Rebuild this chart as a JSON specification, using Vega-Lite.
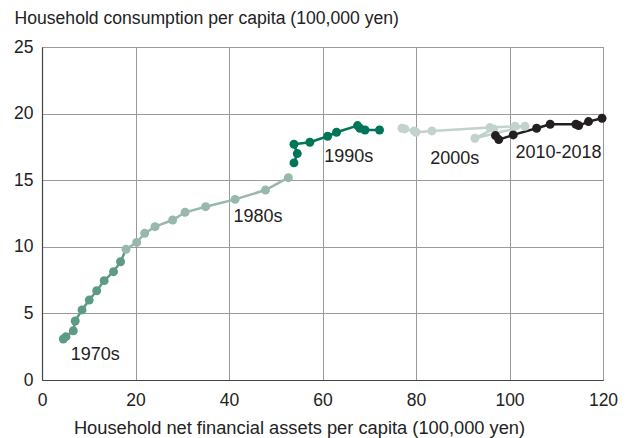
{
  "$schema": "https://vega.github.io/schema/vega-lite/v6.json",
  "width": 561,
  "height": 333,
  "autosize": {"type": "none"},
  "padding": {"left": 42, "top": 47, "right": 27, "bottom": 58},
  "background": "white",
  "config": {
    "font": "Liberation Sans",
    "view": {"stroke": "#9a9a9a", "strokeWidth": 1},
    "axis": {
      "grid": true,
      "gridColor": "#9a9a9a",
      "gridWidth": 1,
      "ticks": false,
      "labelFlush": false,
      "labelOverlap": false,
      "domainColor": "#444444",
      "domainWidth": 1.2,
      "labelFont": "Liberation Sans",
      "labelFontSize": 17.5,
      "labelColor": "#222222",
      "titleFont": "Liberation Sans",
      "titleFontSize": 17.6,
      "titleFontWeight": "normal",
      "titleColor": "#222222"
    }
  },
  "datasets": {
    "pts": [
      {"era": "1970s", "year": 1970, "x": 4.56, "y": 3.08},
      {"era": "1970s", "year": 1971, "x": 5.13, "y": 3.25},
      {"era": "1970s", "year": 1972, "x": 6.7, "y": 3.7},
      {"era": "1970s", "year": 1973, "x": 7.1, "y": 4.43},
      {"era": "1970s", "year": 1974, "x": 8.56, "y": 5.26},
      {"era": "1970s", "year": 1975, "x": 10.1, "y": 6.0},
      {"era": "1970s", "year": 1976, "x": 11.7, "y": 6.7},
      {"era": "1970s", "year": 1977, "x": 13.3, "y": 7.46},
      {"era": "1970s", "year": 1978, "x": 15.3, "y": 8.13},
      {"era": "1970s", "year": 1979, "x": 16.8, "y": 8.88},
      {"era": "1970s", "year": 1980, "x": 17.97, "y": 9.81, "link": true},
      {"era": "1980s", "year": 1980, "x": 17.97, "y": 9.81},
      {"era": "1980s", "year": 1981, "x": 20.25, "y": 10.33},
      {"era": "1980s", "year": 1982, "x": 21.96, "y": 11.01},
      {"era": "1980s", "year": 1983, "x": 24.17, "y": 11.51},
      {"era": "1980s", "year": 1984, "x": 27.95, "y": 12.01},
      {"era": "1980s", "year": 1985, "x": 30.6, "y": 12.59},
      {"era": "1980s", "year": 1986, "x": 35.0, "y": 13.01},
      {"era": "1980s", "year": 1987, "x": 41.3, "y": 13.56},
      {"era": "1980s", "year": 1988, "x": 47.8, "y": 14.26},
      {"era": "1980s", "year": 1989, "x": 52.7, "y": 15.19},
      {"era": "1990s", "year": 1990, "x": 53.9, "y": 16.3},
      {"era": "1990s", "year": 1991, "x": 54.6, "y": 17.0},
      {"era": "1990s", "year": 1992, "x": 53.9, "y": 17.7},
      {"era": "1990s", "year": 1993, "x": 57.3, "y": 17.85},
      {"era": "1990s", "year": 1994, "x": 61.1, "y": 18.3},
      {"era": "1990s", "year": 1995, "x": 63.0, "y": 18.6},
      {"era": "1990s", "year": 1996, "x": 67.5, "y": 19.1},
      {"era": "1990s", "year": 1997, "x": 68.0, "y": 18.9},
      {"era": "1990s", "year": 1998, "x": 69.1, "y": 18.77},
      {"era": "1990s", "year": 1999, "x": 72.2, "y": 18.77},
      {"era": "2000s", "year": 2000, "x": 77.0, "y": 18.9},
      {"era": "2000s", "year": 2001, "x": 77.6, "y": 18.85},
      {"era": "2000s", "year": 2002, "x": 79.6, "y": 18.7},
      {"era": "2000s", "year": 2003, "x": 80.0, "y": 18.6},
      {"era": "2000s", "year": 2004, "x": 83.4, "y": 18.7},
      {"era": "2000s", "year": 2005, "x": 95.8, "y": 18.95},
      {"era": "2000s", "year": 2006, "x": 101.2, "y": 19.05},
      {"era": "2000s", "year": 2007, "x": 103.3, "y": 19.05},
      {"era": "2000s", "year": 2008, "x": 92.6, "y": 18.15},
      {"era": "2000s", "year": 2009, "x": 96.6, "y": 18.85},
      {"era": "2010-2018", "year": 2010, "x": 97.0, "y": 18.35},
      {"era": "2010-2018", "year": 2011, "x": 97.7, "y": 18.05},
      {"era": "2010-2018", "year": 2012, "x": 100.8, "y": 18.4},
      {"era": "2010-2018", "year": 2013, "x": 105.8, "y": 18.9},
      {"era": "2010-2018", "year": 2014, "x": 108.7, "y": 19.2},
      {"era": "2010-2018", "year": 2015, "x": 114.2, "y": 19.2},
      {"era": "2010-2018", "year": 2016, "x": 114.8, "y": 19.1},
      {"era": "2010-2018", "year": 2017, "x": 116.9, "y": 19.4},
      {"era": "2010-2018", "year": 2018, "x": 119.8, "y": 19.65}
    ],
    "labels": [
      {"label": "1970s", "x": 11.4, "y": 1.88},
      {"label": "1980s", "x": 46.2, "y": 12.2},
      {"label": "1990s", "x": 65.6, "y": 16.77},
      {"label": "2000s", "x": 88.3, "y": 16.56},
      {"label": "2010-2018", "x": 110.5, "y": 17.07}
    ]
  },
  "layer": [
    {
      "data": {"name": "pts"},
      "mark": {"type": "line", "strokeWidth": 2.5},
      "encoding": {
        "x": {
          "field": "x", "type": "quantitative",
          "scale": {"domain": [0, 120], "nice": false, "zero": false},
          "axis": {
            "values": [0, 20, 40, 60, 80, 100, 120],
            "labelPadding": 11,
            "title": "Household net financial assets per capita (100,000 yen)",
            "titleFontSize": 18.3,
            "titleX": 257, "titleY": 53, "titleAlign": "center", "titleBaseline": "alphabetic", "titleAnchor": null
          }
        },
        "y": {
          "field": "y", "type": "quantitative",
          "scale": {"domain": [0, 25], "nice": false},
          "axis": {
            "values": [0, 5, 10, 15, 20, 25],
            "labelPadding": 9,
            "title": "Household consumption per capita (100,000 yen)",
            "titleAngle": 0, "titleX": -28, "titleY": -24, "titleAlign": "left", "titleBaseline": "alphabetic", "titleAnchor": null
          }
        },
        "color": {
          "field": "era", "type": "nominal",
          "scale": {"domain": ["1970s", "1980s", "1990s", "2000s", "2010-2018"], "range": ["#5e9b86", "#97b8aa", "#007558", "#c2d3cb", "#231f20"]},
          "legend": null
        },
        "order": {"field": "year", "type": "quantitative"}
      }
    },
    {
      "data": {"name": "pts"},
      "transform": [{"filter": "datum.link !== true"}],
      "mark": {"type": "circle", "size": 80, "opacity": 1},
      "encoding": {
        "x": {"field": "x", "type": "quantitative"},
        "y": {"field": "y", "type": "quantitative"},
        "color": {"field": "era", "type": "nominal", "legend": null}
      }
    },
    {
      "data": {"name": "labels"},
      "mark": {"type": "text", "font": "Liberation Sans", "fontSize": 18, "color": "#222222", "align": "center", "baseline": "middle"},
      "encoding": {
        "x": {"field": "x", "type": "quantitative"},
        "y": {"field": "y", "type": "quantitative"},
        "text": {"field": "label"}
      }
    }
  ]
}
